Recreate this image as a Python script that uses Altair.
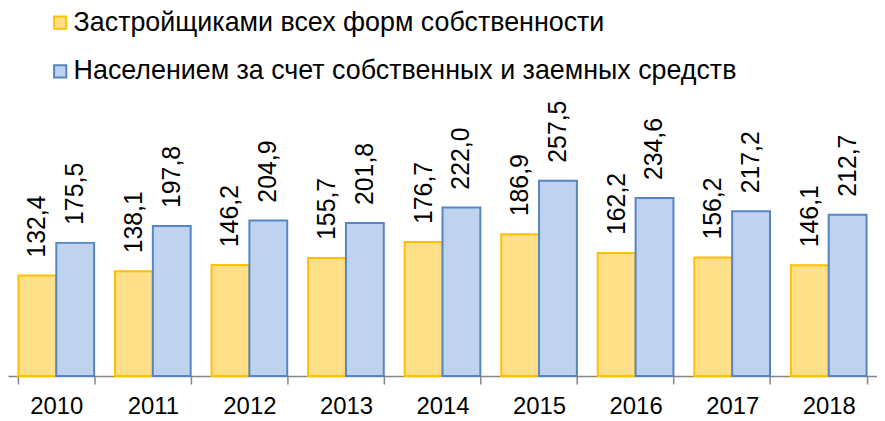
import altair as alt
import pandas as pd

years = ["2010", "2011", "2012", "2013", "2014", "2015", "2016", "2017", "2018"]
developers = [132.4, 138.1, 146.2, 155.7, 176.7, 186.9, 162.2, 156.2, 146.1]
population = [175.5, 197.8, 204.9, 201.8, 222.0, 257.5, 234.6, 217.2, 212.7]
series = ["Застройщиками всех форм собственности",
          "Населением за счет собственных и заемных средств"]

rows = []
for i, y in enumerate(years):
    rows.append({"year": y, "series": series[0], "value": developers[i], "order": 0})
    rows.append({"year": y, "series": series[1], "value": population[i], "order": 1})
df = pd.DataFrame(rows)
df["label"] = df["value"].map(lambda v: f"{v:.1f}".replace(".", ","))

H = 229
W = 874

x = alt.X("year:N", title=None,
          scale=alt.Scale(paddingInner=0.216, paddingOuter=0.108),
          axis=alt.Axis(tickBand="extent", labelAngle=0, labelFontSize=24,
                        labelFont="Liberation Sans", labelColor="#000000",
                        labelPadding=11, domainColor="#868686", domainWidth=1.5,
                        tickColor="#868686", tickWidth=1.5, tickSize=8))
xo = alt.XOffset("series:N", sort=series, scale=alt.Scale(paddingInner=0, paddingOuter=0))
y = alt.Y("value:Q", title=None, scale=alt.Scale(domain=[0, 300], nice=False), axis=None)

color = alt.Color("series:N", sort=series, title=None,
                  scale=alt.Scale(domain=series, range=["#FFDF88", "#BFD3EE"]),
                  legend=alt.Legend(orient="none", legendX=39, legendY=-140,
                                    direction="vertical", symbolType="square",
                                    symbolSize=150, symbolStrokeWidth=2,
                                    labelFontSize=27, labelFont="Liberation Sans",
                                    labelColor="#000000", rowPadding=21,
                                    labelOffset=0, labelLimit=900, symbolOpacity=1))
stroke = alt.Stroke("series:N", sort=series, legend=None,
                    scale=alt.Scale(domain=series, range=["#FFC000", "#5585C2"]))

bars = alt.Chart(df).mark_bar(strokeWidth=2, opacity=1).encode(
    x=x, xOffset=xo, y=y, color=color, stroke=stroke)

labels = alt.Chart(df).mark_text(angle=270, align="left", baseline="middle",
                                 dx=18, fontSize=25, font="Liberation Sans",
                                 color="#000000").encode(
    x=x, xOffset=xo, y=y, text="label:N")

chart = alt.layer(bars, labels).properties(
    width=W, height=H,
    autosize=alt.AutoSizeParams(type="none"),
    padding={"left": 0, "top": 140, "right": 0, "bottom": 44},
).configure_view(stroke=None)

chart.save("out.html", embed_options={"renderer": "svg", "actions": False})
